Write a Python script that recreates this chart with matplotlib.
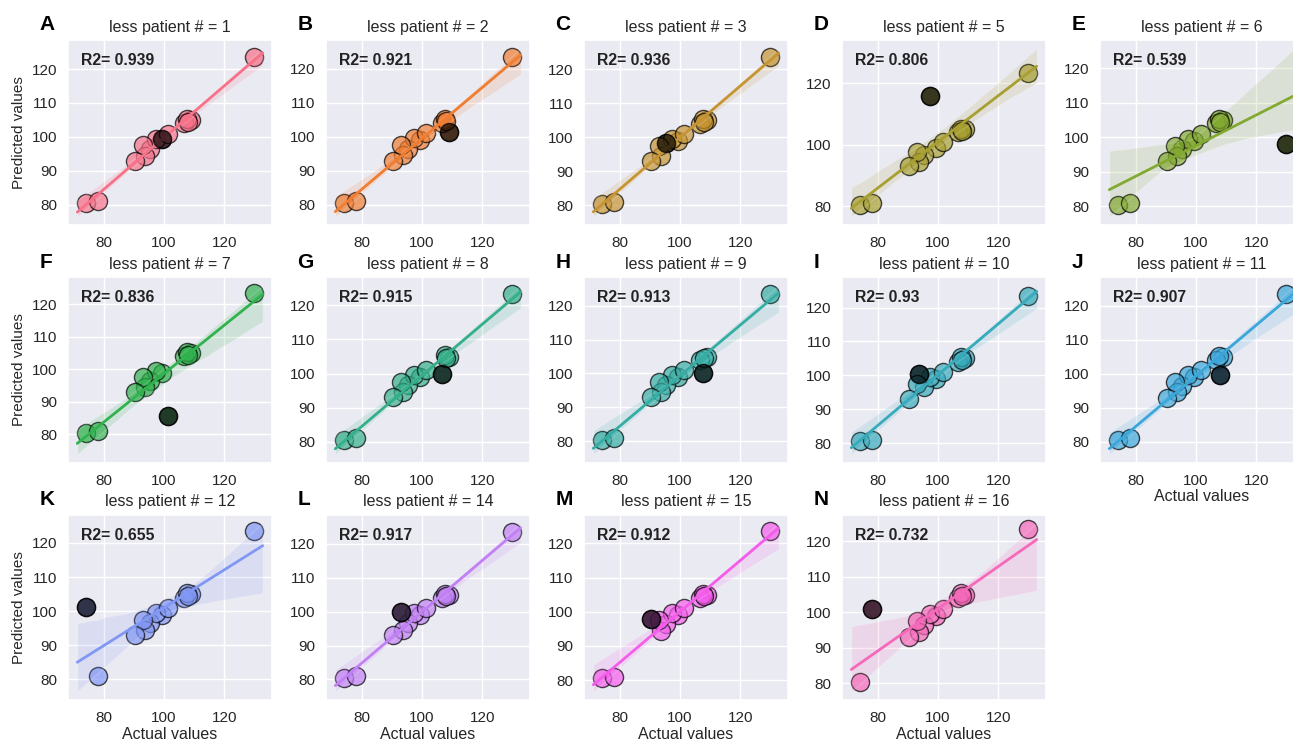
import numpy as np
import matplotlib
matplotlib.use('Agg')
import matplotlib.pyplot as plt
import seaborn as sns

# patients left out, one per panel
patients = [1, 2, 3, 5, 6, 7, 8, 9, 10, 11, 12, 14, 15, 16]
letters = ['A', 'B', 'C', 'D', 'E', 'F', 'G', 'H', 'I', 'J', 'K', 'L', 'M', 'N']
r2_values = [0.939, 0.921, 0.936, 0.806, 0.539, 0.836, 0.915, 0.913, 0.93,
             0.907, 0.655, 0.917, 0.912, 0.732]

# actual value of each patient (same order as patients)
actual = [99.5, 109, 95.5, 97.5, 130, 101.5, 106.5, 107.5, 93.8, 108, 74, 93, 90.5, 78]
# prediction of each patient when it is in the training set
pred_in = [99, 105, 96.5, 99.5, 123.5, 101, 104, 105.3, 94.5, 104.5, 80.5, 97.5, 93, 81]
# prediction of the left-out patient
pred_out = [99.3, 101.5, 98.2, 116, 98, 85.5, 100, 100, 100.5, 99.5, 101.2, 100, 97.8, 101]

sns.set_theme(style='darkgrid')
plt.rcParams['font.family'] = ['Liberation Sans', 'DejaVu Sans']

colors = sns.color_palette('husl', len(patients))

fig, axes = plt.subplots(3, 5, figsize=(12.93, 7.40), dpi=100)
fig.subplots_adjust(left=0.0526, right=1.0085, top=0.946, bottom=0.054,
                    wspace=0.265, hspace=0.28)
axes = axes.flatten()

x_all = np.array(actual)
# line runs over the scatter's auto range, axes get a margin on top of it
span = x_all.max() - x_all.min()
line_lo, line_hi = x_all.min() - 0.05 * span, x_all.max() + 0.05 * span
pad = 0.05 * (line_hi - line_lo)

for i, pid in enumerate(patients):
    ax = axes[i]
    y_all = np.array(pred_in, dtype=float)
    y_all[i] = pred_out[i]
    ax.set_xlim(line_lo, line_hi)
    sns.regplot(x=x_all, y=y_all, ax=ax, color=colors[i], truncate=False, seed=0,
                scatter_kws={'s': 170, 'alpha': 0.7, 'edgecolor': 'black', 'linewidths': 1},
                line_kws={'linewidth': 2})
    ax.scatter([actual[i]], [pred_out[i]], s=170, color='black', alpha=0.7, zorder=4)
    ax.set_xlim(line_lo - pad, line_hi + pad)
    ax.set_title('less patient # = %d' % pid, fontsize=11.5)
    ax.text(0.065, 0.89, 'R2= %s' % r2_values[i], transform=ax.transAxes,
            fontsize=11.3, fontweight='bold', va='center', color='#222222')
    ax.text(-0.14, 1.03, letters[i], transform=ax.transAxes,
            fontsize=15, fontweight='bold', va='bottom', color='black')
    ax.tick_params(labelsize=11, pad=2)
    ax.set_xticks([80, 100, 120])
    if i % 5 == 0:
        ax.set_ylabel('Predicted values', fontsize=11)
    if i >= 10 or i == 9:
        ax.set_xlabel('Actual values', fontsize=11.5, labelpad=1)

axes[14].remove()

plt.savefig('out.png', dpi=100)
